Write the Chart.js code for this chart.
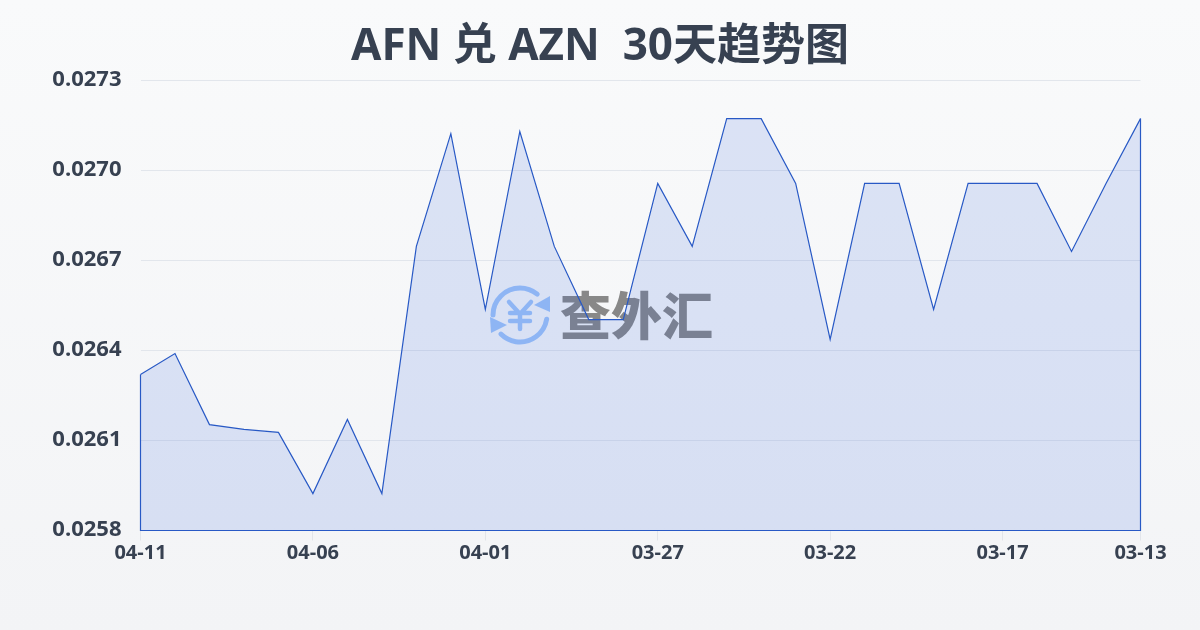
<!DOCTYPE html>
<html>
<head>
<meta charset="utf-8">
<style>
html, body { margin: 0; padding: 0; }
body { width: 1200px; height: 630px; overflow: hidden; background: linear-gradient(180deg, #f9fafb 0%, #f3f4f6 100%); }
#wrap { position: relative; width: 1200px; height: 630px; }
</style>
<script src="https://cdn.jsdelivr.net/npm/chart.js@4/dist/chart.umd.min.js"></script>
</head>
<body>
<div id="wrap"><canvas id="rateChart" width="1200" height="630"></canvas></div>
<script>
const titleText = 'AFN 兑 AZN  30天趋势图';
const watermarkText = '查外汇';
const dates = ['04-11','04-10','04-09','04-08','04-07','04-06','04-05','04-04','04-03','04-02',
    '04-01','03-31','03-30','03-29','03-28','03-27','03-26','03-25','03-24','03-23',
    '03-22','03-21','03-20','03-19','03-18','03-17','03-16','03-15','03-14','03-13'];
const rates = [0.02632,0.02639,0.026153,0.026137,0.026127,0.025923,0.02617,0.025923,0.026747,0.027123,
    0.026537,0.02713,0.026747,0.026503,0.026503,0.026957,0.026747,0.027173,0.027173,0.026957,
    0.026437,0.026957,0.026957,0.026537,0.026957,0.026957,0.026957,0.02673,0.026957,0.027173];
const xTickLabels = ['04-11','04-06','04-01','03-27','03-22','03-17','03-13'];
const yTickValues = [0.0258,0.0261,0.0264,0.0267,0.0270,0.0273];

const TEXT = '#374151';
const LINE = '#2859c5';

// watermark sits under the fill, the line goes over it
const watermark = {
    id: 'watermark',
    beforeDatasetsDraw(chart) {
        const ctx = chart.ctx;
        ctx.save();
        const cx = 520, cy = 315;
        ctx.strokeStyle = '#9fc4f9';
        ctx.fillStyle = '#9fc4f9';
        ctx.lineWidth = 5;
        ctx.lineCap = 'round';
        ctx.lineJoin = 'round';
        // two arrows going round the yen sign
        ctx.beginPath();
        ctx.arc(cx, cy, 27, Math.PI * 1.0, Math.PI * 1.72);
        ctx.stroke();
        ctx.beginPath();
        ctx.arc(cx, cy, 27, Math.PI * 0.05, Math.PI * 0.75);
        ctx.stroke();
        ctx.beginPath();
        ctx.moveTo(550, 296); ctx.lineTo(550, 312); ctx.lineTo(534, 305);
        ctx.closePath(); ctx.fill();
        ctx.beginPath();
        ctx.moveTo(490, 317); ctx.lineTo(507, 325); ctx.lineTo(491, 333);
        ctx.closePath(); ctx.fill();
        // yen sign
        ctx.lineWidth = 4.5;
        ctx.beginPath();
        ctx.moveTo(509, 302); ctx.lineTo(520, 314); ctx.lineTo(531, 302);
        ctx.moveTo(520, 314); ctx.lineTo(520, 329);
        ctx.moveTo(510, 313); ctx.lineTo(530, 313);
        ctx.moveTo(510, 321); ctx.lineTo(530, 321);
        ctx.stroke();
        ctx.fillStyle = '#888888';
        ctx.font = '900 51px "Noto Sans CJK SC"';
        ctx.textAlign = 'left';
        ctx.textBaseline = 'middle';
        ctx.fillText(watermarkText, 560, 316);
        ctx.restore();
    }
};

// the area outline also runs down the sides and along the bottom
const areaOutline = {
    id: 'areaOutline',
    afterDatasetsDraw(chart) {
        const pts = chart.getDatasetMeta(0).data;
        const first = pts[0], last = pts[pts.length - 1];
        const bottom = chart.scales.y.getPixelForValue(yTickValues[0]);
        const ctx = chart.ctx;
        ctx.save();
        ctx.strokeStyle = LINE;
        ctx.lineWidth = 1.2;
        ctx.beginPath();
        ctx.moveTo(first.x, first.y);
        ctx.lineTo(first.x, bottom);
        ctx.lineTo(last.x, bottom);
        ctx.lineTo(last.x, last.y);
        ctx.stroke();
        ctx.restore();
    }
};

new Chart(document.getElementById('rateChart').getContext('2d'), {
    type: 'line',
    plugins: [watermark, areaOutline],
    data: {
        labels: dates,
        datasets: [{
            data: rates,
            borderColor: LINE,
            borderWidth: 1.2,
            tension: 0,
            pointRadius: 0,
            fill: 'start',
            backgroundColor: 'rgba(45, 95, 220, 0.14)'
        }]
    },
    options: {
        responsive: false,
        animation: false,
        plugins: {
            legend: { display: false },
            tooltip: { enabled: false },
            title: {
                display: true,
                text: titleText,
                color: TEXT,
                font: { family: '"Open Sans", "Noto Sans CJK SC"', size: 44, weight: 'bold', lineHeight: 1 },
                padding: { top: 25, bottom: 11.5 }
            }
        },
        scales: {
            x: {
                afterFit(scale) { scale.height = 99.5; },
                afterBuildTicks(scale) {
                    scale.ticks = scale.ticks.filter(t => xTickLabels.includes(dates[t.value]));
                },
                grid: { drawOnChartArea: false, color: '#e2e5ea', tickLength: 10 },
                border: { display: false },
                ticks: {
                    autoSkip: false,
                    maxRotation: 0,
                    padding: 1,
                    color: TEXT,
                    font: { family: '"Open Sans"', size: 20, weight: 'bold' }
                }
            },
            y: {
                min: yTickValues[0],
                max: yTickValues[yTickValues.length - 1],
                afterFit(scale) { scale.width = 140.5; },
                afterBuildTicks(scale) {
                    scale.ticks = yTickValues.map(v => ({ value: v }));
                },
                grid: { color: '#e2e6ec', drawTicks: false },
                border: { display: false },
                ticks: {
                    padding: 19,
                    labelOffset: -1,
                    color: TEXT,
                    font: { family: '"Open Sans"', size: 22, weight: 'bold' },
                    callback: v => v.toFixed(4)
                }
            },
            // empty axis, only keeps the right margin so the title stays centred on the page
            spacer: {
                position: 'right',
                afterFit(scale) { scale.width = 59.5; },
                grid: { display: false },
                border: { display: false },
                ticks: { display: false }
            }
        }
    }
});
</script>
</body>
</html>
